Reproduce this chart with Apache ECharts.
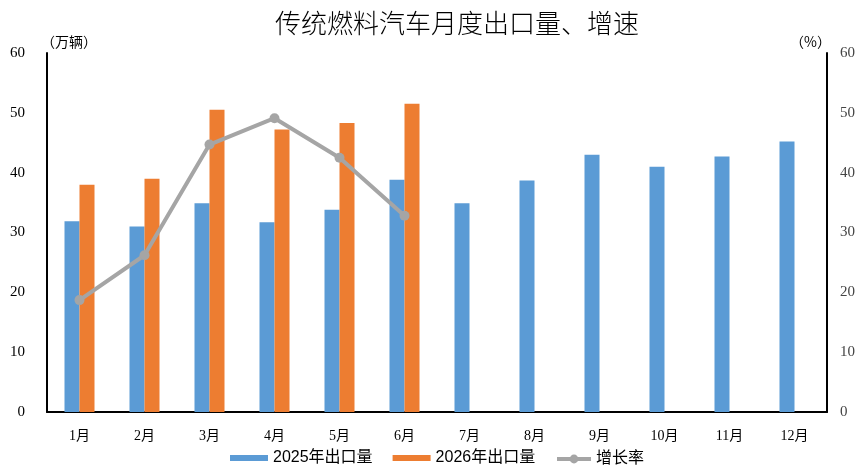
<!DOCTYPE html>
<html><head><meta charset="utf-8">
<script src="https://cdn.jsdelivr.net/npm/echarts@6/dist/echarts.min.js"></script>
<style>html,body{margin:0;padding:0;background:#fff}#c{width:865px;height:473px}</style>
</head><body><div id="c"></div>
<script>
const months = ['1月','2月','3月','4月','5月','6月','7月','8月','9月','10月','11月','12月'];
const exports2025 = [31.9, 31.0, 34.9, 31.7, 33.8, 38.8, 34.9, 38.7, 43.0, 41.0, 42.7, 45.2];
const exports2026 = [38.0, 39.0, 50.5, 47.2, 48.3, 51.5, null, null, null, null, null, null];
const growthRate = [18.7, 26.2, 44.7, 49.1, 42.5, 32.8, null, null, null, null, null, null];
const leftTicks = [0, 10, 20, 30, 40, 50, 60];

const serif = '"Liberation Serif", "Noto Sans CJK SC", serif';
const cjk = '"Noto Sans CJK SC", sans-serif';
const legendFont = {fontFamily: '"Liberation Sans", "Noto Sans CJK SC", sans-serif', fontSize: 16, color: '#000'};
const chart = echarts.init(document.getElementById('c'), null, {renderer: 'canvas'});
chart.setOption({
  animation: false,
  title: {
    text: '传统燃料汽车月度出口量、增速',
    left: 270, top: 5,
    textStyle: {fontFamily: cjk, fontSize: 26, fontWeight: 300, color: '#000'}
  },
  legend: [
    {
      bottom: 7, left: 230, padding: 0,
      itemWidth: 38, itemHeight: 6, itemGap: 20,
      textStyle: legendFont,
      data: [{name: '2025年出口量', icon: 'rect'}, {name: '2026年出口量', icon: 'rect'}]
    },
    {
      bottom: 6, left: 555, padding: 0,
      itemWidth: 34, itemHeight: 11,
      textStyle: legendFont,
      lineStyle: {width: 4},
      data: ['增长率']
    }
  ],
  grid: {left: 47, right: 38, top: 53, bottom: 61, containLabel: false},
  xAxis: {
    type: 'category', data: months,
    axisLine: {lineStyle: {color: '#000', width: 2}},
    axisTick: {show: false},
    axisLabel: {fontFamily: serif, fontSize: 14, color: '#000', margin: 17}
  },
  yAxis: [
    {
      type: 'value', min: leftTicks[0], max: leftTicks[leftTicks.length-1], interval: 10,
      name: '（万辆）', nameLocation: 'end', nameGap: 4,
      nameTextStyle: {fontFamily: cjk, fontSize: 14, color: '#000', align: 'left', padding: [0,0,0,-6]},
      axisLine: {show: true, lineStyle: {color: '#000', width: 2}},
      axisTick: {show: false}, splitLine: {show: false},
      axisLabel: {fontFamily: serif, fontSize: 15, color: '#000', margin: 22}
    },
    {
      type: 'value', min: leftTicks[0], max: leftTicks[leftTicks.length-1], interval: 10,
      name: '（%）', nameLocation: 'end', nameGap: 4,
      nameTextStyle: {fontFamily: cjk, fontSize: 14, color: '#000', align: 'right', padding: [0,-4,0,0]},
      axisLine: {show: true, lineStyle: {color: '#000', width: 2}},
      axisTick: {show: false}, splitLine: {show: false},
      axisLabel: {fontFamily: serif, fontSize: 15, color: '#444', margin: 13}
    }
  ],
  series: [
    {name: '2025年出口量', type: 'bar', data: exports2025, barWidth: 15, barGap: '0%',
     itemStyle: {color: '#5B9BD5'}},
    {name: '2026年出口量', type: 'bar', data: exports2026, barWidth: 15, barGap: '0%',
     itemStyle: {color: '#ED7D31'}},
    {name: '增长率', type: 'line', yAxisIndex: 1, data: growthRate,
     symbol: 'circle', symbolSize: 10, z: 5,
     lineStyle: {color: '#A5A5A5', width: 4},
     itemStyle: {color: '#A5A5A5'}}
  ]
});
</script></body></html>
